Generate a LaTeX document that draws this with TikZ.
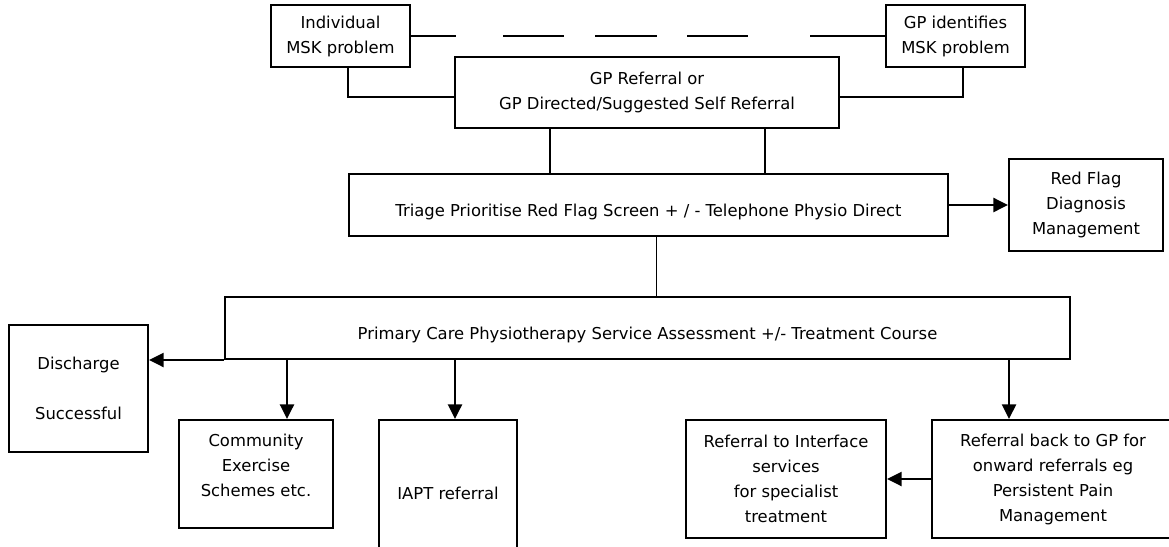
\documentclass[tikz,border=0pt]{standalone}
\usepackage{fontspec}
\setmainfont{DejaVu Sans}
\usetikzlibrary{arrows.meta}
\newcommand{\TXT}{\fontsize{12.3}{18.75}\selectfont}
\newcommand{\low}[1]{\raisebox{-5pt}[\height][\depth]{#1}}

\begin{document}
\begin{tikzpicture}[
    x=0.75pt, y=-0.75pt,
    box/.style={rectangle, draw=black, line width=1.5pt, inner sep=0pt, align=center, font=\TXT},
    sz/.style 2 args={minimum width={#1*0.75pt}, minimum height={#2*0.75pt}},
    link/.style={draw=black, line width=1.3pt},
    arr/.style={draw=black, line width=1.8pt, -{Triangle[length=11pt, width=10.5pt]}},
    gapline/.style={link, dash pattern=on 33.75pt off 35.25pt on 45.75pt off 23.25pt on 46.5pt off 22.5pt on 45.75pt off 46.5pt on 60pt off 10pt},
  ]
  \useasboundingbox (0,0) rectangle (1169,546);

  %% ================= who spots the problem =================
  \node[box, sz={139}{62}] (indiv) at (340.5,36) {Individual\\MSK problem};
  \node[box, sz={139}{62}] (gpid) at (955.5,36) {GP identifies\\MSK problem};
  \node[box, sz={384}{71}] (gpref) at (647,92.5) {GP Referral or\\GP Directed/Suggested Self Referral};

  \draw[gapline] (indiv.east) -- (gpid.west);
  \draw[link] ([xshift=5.6pt]indiv.south) |- ([yshift=-3.4pt]gpref.west);
  \draw[link] ([xshift=5.6pt]gpid.south) |- ([yshift=-3.4pt]gpref.east);

  %% ================= triage =================
  \node[box, sz={599}{62}] (triage) at (648.5,205) {\low{Triage Prioritise Red Flag Screen + / - Telephone Physio Direct}};
  \node[box, sz={154}{92}] (redflag) at (1086,205) {Red Flag\\Diagnosis\\Management};

  \foreach \dx in {-72.75pt, 88.5pt} {
    \draw[link] ([xshift=\dx]gpref.south) -- ([xshift=\dx]gpref.south |- triage.north);
  }
  \draw[arr] (triage.east) -- (redflag.west);

  %% ================= physio service and its outcomes =================
  \node[box, sz={845}{62}] (primary) at (647.5,328) {\low{Primary Care Physiotherapy Service Assessment +/- Treatment Course}};
  \draw[link] ([xshift=6pt]triage.south) -- ([xshift=6pt]triage.south |- primary.north);

  \node[box, sz={139}{127}] (discharge) at (78.5,388.5) {Discharge\\[18.75pt]Successful};
  \node[box, sz={154}{108}] (community) at (256,474) {Community\\Exercise\\Schemes etc.\\[-6pt]\mbox{}};
  \node[box, sz={138}{146}] (iapt) at (448,493) {IAPT referral};
  \node[box, sz={200}{118}] (interface) at (786,479) {Referral to Interface\\services\\for specialist\\treatment};
  \node[box, sz={242}{118}] (gpback) at (1053,479) {Referral back to GP for\\onward referrals eg\\Persistent Pain\\Management};

  \draw[arr] (primary.south west) -- (primary.south west -| discharge.east);
  \draw[arr] ([xshift=23.25pt]community.north |- primary.south) -- ([xshift=23.25pt]community.north);
  \draw[arr] ([xshift=5.25pt]iapt.north |- primary.south) -- ([xshift=5.25pt]iapt.north);
  \draw[arr] ([xshift=-33pt]gpback.north |- primary.south) -- ([xshift=-33pt]gpback.north);
  \draw[arr] (gpback.west) -- (interface.east);

\end{tikzpicture}
\end{document}
